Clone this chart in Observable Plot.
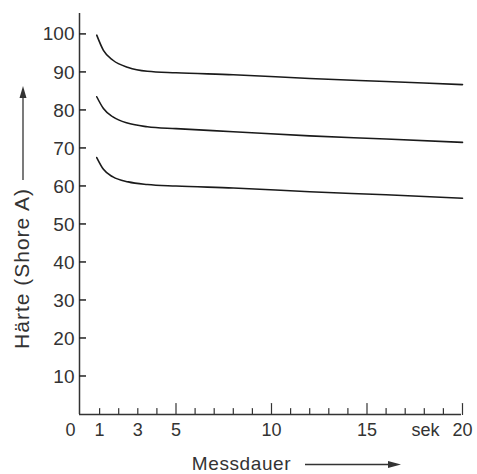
<!DOCTYPE html>
<html><head><meta charset="utf-8">
<script src="https://cdn.jsdelivr.net/npm/d3@7"></script>
<script src="https://cdn.jsdelivr.net/npm/@observablehq/plot@0.6"></script>
<style>body{margin:0;background:#fff} svg{display:block}</style>
</head><body><div id="chart"></div>
<script>
// measurement time (s)
const timeSec = [0.85, 1.2, 1.7, 2.5, 3.5, 5, 8, 12, 16, 20];
// hardness curves (Shore A)
const hardHigh = [99.8, 95.8, 93.2, 91.3, 90.3, 89.9, 89.4, 88.4, 87.6, 86.8];
const hardMid  = [83.6, 80.5, 78.3, 76.6, 75.7, 75.2, 74.4, 73.3, 72.5, 71.6];
const hardLow  = [67.6, 64.5, 62.5, 61.2, 60.5, 60.1, 59.6, 58.6, 57.8, 56.9];
const yTicks = [10, 20, 30, 40, 50, 60, 70, 80, 90, 100];
const xMinorTicks = [1,2,3,4,6,7,8,9,11,12,13,14,16,17,18,19];
const xMajorTicks = [5, 10, 15, 20];
const xLabels = [1, 3, 5, 10, 15, 20];
const xOrigin = [0];
const xUnit = "sek";
const xTitle = "Messdauer";
const yTitle = "Härte (Shore A)";
const yMax = 105.5;

const rows = [];
[["high", hardHigh], ["mid", hardMid], ["low", hardLow]].forEach(([s, arr]) =>
  arr.forEach((h, i) => rows.push({series: s, t: timeSec[i], h})));

const ink = "#333";
const tickUp = {draw(ctx, l) { ctx.moveTo(0, 0); ctx.lineTo(0, -l); }};

const chart = Plot.plot({
  width: 477, height: 474,
  marginLeft: 80, marginRight: 15, marginTop: 13, marginBottom: 60,
  style: {fontFamily: "'Liberation Sans', Arial, sans-serif", color: ink, background: "#fff"},
  x: {domain: [0, 20], axis: null},
  y: {domain: [0, yMax], axis: null},
  marks: [
    Plot.ruleX([0], {y1: 0, y2: yMax, stroke: ink, strokeWidth: 1.5, dx: -1}),
    Plot.ruleY([0], {x1: 0, x2: 20, stroke: ink, strokeWidth: 1.5, dx: -1}),
    Plot.text(yTicks, {x: () => 0, y: d => d, text: d => String(d), textAnchor: "end", dx: -6, fontSize: 19, fill: ink}),
    Plot.vector(xMinorTicks, {x: d => d, y: () => 0, length: 6, anchor: "start", shape: tickUp, stroke: ink, strokeWidth: 1.2}),
    Plot.vector(xMajorTicks, {x: d => d, y: () => 0, length: 11, anchor: "start", shape: tickUp, stroke: ink, strokeWidth: 1.2}),
    Plot.text(xLabels, {x: d => d, y: () => 0, dy: 16, text: d => String(d), fontSize: 18, fill: ink}),
    Plot.text(xOrigin, {x: d => d, y: () => 0, dy: 16, dx: -10, text: d => String(d), fontSize: 18, fill: ink}),
    Plot.text([xUnit], {x: () => 20, y: () => 0, dy: 16, dx: -37, text: d => d, fontSize: 18, fill: ink}),
    Plot.line(rows, {x: "t", y: "h", z: "series", curve: "monotone-x", stroke: "#1a1a1a", strokeWidth: 1.6})
  ]
});

const svg = d3.select(chart);
const xs = chart.scale("x"), ys = chart.scale("y");
const x0 = xs.apply(0) - 1;
// inward y ticks placed through Plot's y scale
svg.append("g").attr("stroke", "#222").attr("stroke-width", 1.5)
  .selectAll("line").data(yTicks).join("line")
  .attr("x1", x0).attr("x2", x0 + 7)
  .attr("y1", d => ys.apply(d)).attr("y2", d => ys.apply(d));
// y title with arrow
svg.append("text").attr("transform", "translate(21,268.5) rotate(-90)")
  .attr("text-anchor", "middle").attr("dominant-baseline", "central")
  .attr("font-size", 21).attr("letter-spacing", "1px").attr("fill", ink)
  .attr("font-family", "'Liberation Sans', Arial, sans-serif").text(yTitle);
svg.append("line").attr("x1", 23).attr("x2", 23).attr("y1", 180).attr("y2", 96)
  .attr("stroke", ink).attr("stroke-width", 1.3);
svg.append("path").attr("d", "M23,86 L19.5,98 L26.5,98 Z").attr("fill", ink);
// x title with arrow
svg.append("text").attr("x", 241.5).attr("y", 470).attr("text-anchor", "middle")
  .attr("font-size", 19).attr("letter-spacing", "0.6px").attr("fill", ink)
  .attr("font-family", "'Liberation Sans', Arial, sans-serif").text(xTitle);
svg.append("line").attr("x1", 305).attr("x2", 390).attr("y1", 464.5).attr("y2", 464.5)
  .attr("stroke", ink).attr("stroke-width", 1.3);
svg.append("path").attr("d", "M401,464.5 L388,461 L388,468 Z").attr("fill", ink);

document.getElementById("chart").appendChild(chart);
</script>
</body></html>
